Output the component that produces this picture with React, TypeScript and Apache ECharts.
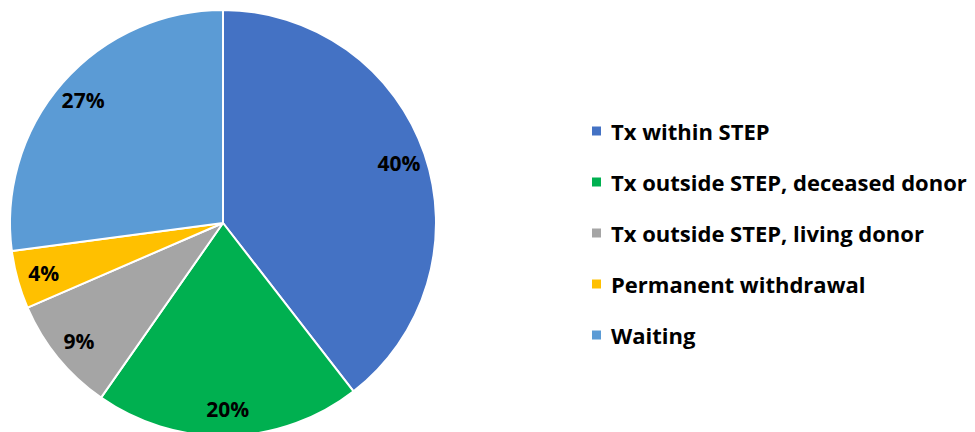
import React, { useEffect, useRef } from "react";
import * as echarts from "echarts";

const categories = [
  "Tx within STEP",
  "Tx outside STEP, deceased donor",
  "Tx outside STEP, living donor",
  "Permanent withdrawal",
  "Waiting",
];
const values = [39.5, 20.2, 8.8, 4.4, 27.1];
const colors = ["#4472C4", "#00B050", "#A5A5A5", "#FFC000", "#5B9BD5"];

const FONT = "'Open Sans', Lato, sans-serif";

export default function App() {
  const ref = useRef<HTMLDivElement>(null);
  useEffect(() => {
    if (!ref.current) return;
    const chart = echarts.init(ref.current, undefined, { renderer: "svg" });
    const data = categories.map((name, i) => ({ name, value: values[i] }));
    chart.setOption({
      animation: false,
      backgroundColor: "#ffffff",
      legend: {
        orient: "vertical",
        left: 590,
        top: 120,
        padding: 0,
        icon: "rect",
        itemWidth: 11,
        itemHeight: 11,
        itemGap: 29,
        selectedMode: false,
        data: categories.map((name, i) => ({ name, itemStyle: { color: colors[i] } })),
        textStyle: {
          fontFamily: FONT,
          fontWeight: "bold",
          fontSize: 22,
          lineHeight: 22,
          color: "#000000",
          padding: [0, 0, 0, 4],
        },
      },
      series: [
        {
          type: "pie",
          center: [223, 223],
          radius: [0, 213],
          startAngle: 90,
          clockwise: true,
          silent: true,
          data: data.map((d, i) => ({ ...d, itemStyle: { color: colors[i] } })),
          itemStyle: { borderColor: "#ffffff", borderWidth: 2 },
          label: { show: false },
          labelLine: { show: false },
        },
        {
          type: "pie",
          center: [223, 223],
          radius: [153, 213],
          startAngle: 90,
          clockwise: true,
          silent: true,
          data: data.map((d) => ({ ...d, itemStyle: { color: "rgba(0,0,0,0)" } })),
          itemStyle: { borderWidth: 0 },
          label: {
            show: true,
            position: "inside",
            formatter: (p: any) => Math.round(p.percent) + "%",
            fontFamily: FONT,
            fontWeight: "bold",
            fontSize: 21,
            color: "#000000",
          },
          labelLine: { show: false },
        },
      ],
    });
    return () => chart.dispose();
  }, []);
  return (
    <div
      ref={ref}
      style={{ position: "fixed", left: 0, top: 0, width: 975, height: 432 }}
    />
  );
}
